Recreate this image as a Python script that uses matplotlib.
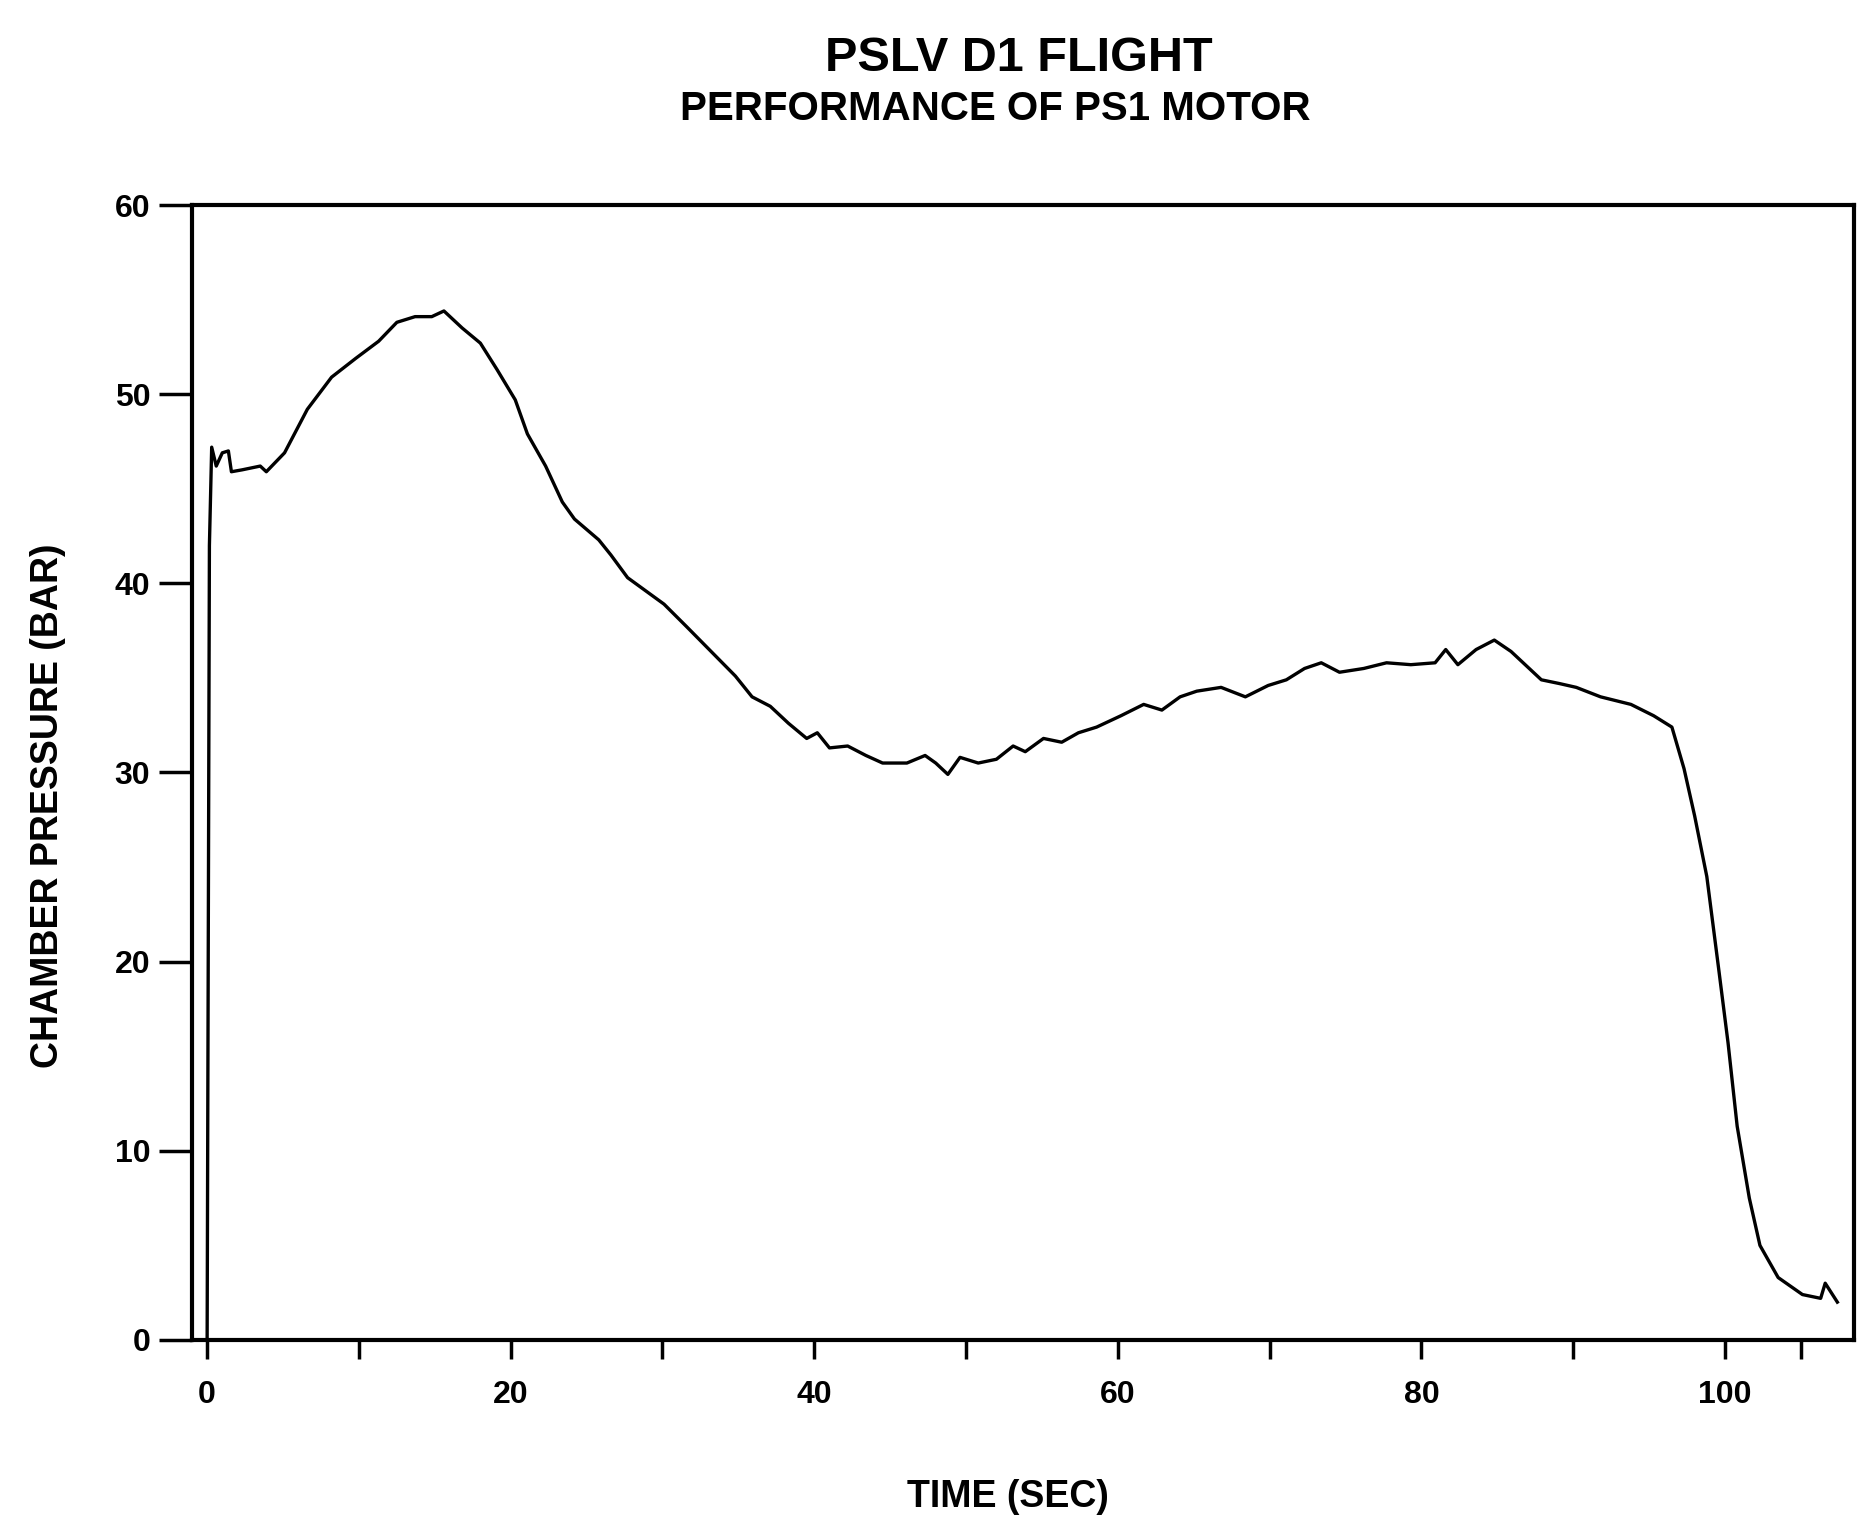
import numpy as np
import matplotlib.pyplot as plt

# chamber pressure trace
tempo = [0.0, 0.15, 0.3, 0.6, 1.0, 1.4, 1.6, 2.3, 3.5, 3.9, 5.1, 6.6, 8.2, 9.8,
         11.3, 12.5, 13.7, 14.8, 15.6, 16.8, 18.0, 19.1, 20.3, 21.1, 22.3, 23.4,
         24.2, 25.8, 26.6, 27.7, 28.9, 30.1, 31.6, 33.2, 34.8, 35.9, 37.1, 38.3,
         39.5, 40.2, 41.0, 42.2, 43.4, 44.5, 46.1, 47.3, 48.0, 48.8, 49.6, 50.8,
         52.0, 53.1, 53.9, 55.1, 56.3, 57.4, 58.6, 60.2, 61.7, 62.9, 64.1, 65.2,
         66.8, 68.4, 69.9, 71.1, 72.3, 73.4, 74.6, 76.2, 77.7, 79.3, 80.9, 81.6,
         82.4, 83.6, 84.8, 85.9, 87.1, 87.9, 89.1, 90.2, 91.8, 93.8, 95.3, 96.5,
         97.3, 98.0, 98.8, 99.6, 100.2, 100.8, 101.6, 102.3, 103.5, 105.1, 106.3,
         106.6, 107.4]
pressao = [0.0, 42.0, 47.2, 46.2, 46.9, 47.0, 45.9, 46.0, 46.2, 45.9, 46.9, 49.2,
           50.9, 51.9, 52.8, 53.8, 54.1, 54.1, 54.4, 53.5, 52.7, 51.3, 49.7, 47.9,
           46.2, 44.3, 43.4, 42.3, 41.5, 40.3, 39.6, 38.9, 37.7, 36.4, 35.1, 34.0,
           33.5, 32.6, 31.8, 32.1, 31.3, 31.4, 30.9, 30.5, 30.5, 30.9, 30.5, 29.9,
           30.8, 30.5, 30.7, 31.4, 31.1, 31.8, 31.6, 32.1, 32.4, 33.0, 33.6, 33.3,
           34.0, 34.3, 34.5, 34.0, 34.6, 34.9, 35.5, 35.8, 35.3, 35.5, 35.8, 35.7,
           35.8, 36.5, 35.7, 36.5, 37.0, 36.4, 35.5, 34.9, 34.7, 34.5, 34.0, 33.6,
           33.0, 32.4, 30.2, 27.7, 24.5, 19.5, 15.7, 11.3, 7.5, 5.0, 3.3, 2.4, 2.2,
           3.0, 2.0]

ticks_x = [0, 20, 40, 60, 80, 100]
ticks_x_menores = [10, 30, 50, 70, 90, 105]
ticks_y = [0, 10, 20, 30, 40, 50, 60]

plt.rcParams['font.family'] = ['Liberation Sans', 'DejaVu Sans']

fig = plt.figure(figsize=(18.6, 15.37), dpi=100)
ax = fig.add_axes([0.1032, 0.1282, 0.8936, 0.7384])

ax.plot(tempo, pressao, color='black', linewidth=2.4)

ax.set_xlim(-1.0, 108.5)
ax.set_ylim(0, 60)
ax.set_xticks(ticks_x)
ax.set_xticks(ticks_x_menores, minor=True)
ax.set_yticks(ticks_y)
ax.set_xticklabels([str(v) for v in ticks_x], fontsize=23, fontweight='bold')
ax.set_yticklabels([str(v) for v in ticks_y], fontsize=23, fontweight='bold')
ax.tick_params(axis='x', which='both', direction='out', length=14, width=2.5, pad=15)
ax.tick_params(axis='y', direction='out', length=24, width=2.5, pad=6)

for lado in ['left', 'right', 'top', 'bottom']:
    ax.spines[lado].set_linewidth(3)

fig.text(0.542, 0.014, 'TIME (SEC)', ha='center', va='bottom', fontsize=27, fontweight='bold')
fig.text(0.026, 0.4756, 'CHAMBER PRESSURE (BAR)', rotation=90, ha='center', va='center',
         fontsize=27, fontweight='bold')
fig.text(0.548, 0.962, 'PSLV D1 FLIGHT', ha='center', va='center', fontsize=35, fontweight='bold')
fig.text(0.535, 0.929, 'PERFORMANCE OF PS1 MOTOR', ha='center', va='center', fontsize=29,
         fontweight='bold')

fig.savefig('out.png', dpi=100)
